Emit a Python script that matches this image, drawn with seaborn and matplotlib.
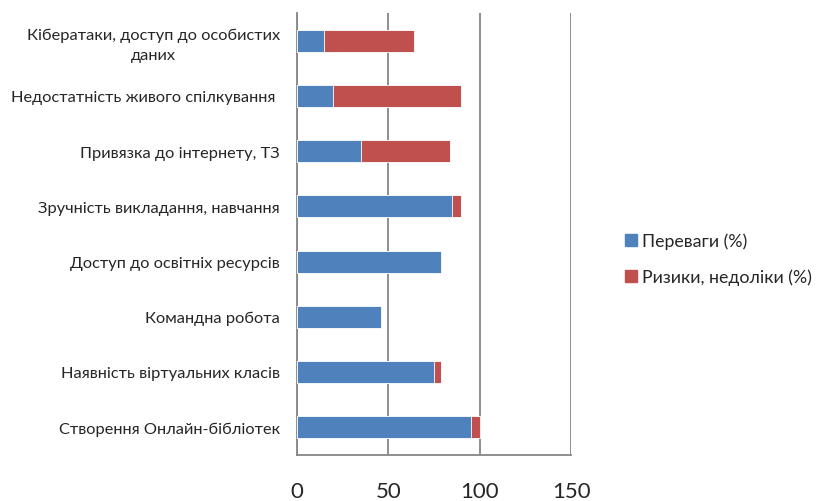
import numpy as np
import pandas as pd
import seaborn as sns
import matplotlib.pyplot as plt
from matplotlib.lines import Line2D

categories = [
    "Кібератаки, доступ до особистих\nданих",
    "Недостатність живого спілкування ",
    "Привязка до інтернету, ТЗ",
    "Зручність викладання, навчання",
    "Доступ до освітніх ресурсів",
    "Командна робота",
    "Наявність віртуальних класів",
    "Створення Онлайн-бібліотек",
]
advantages = [15, 20, 35, 85, 79, 46, 75, 95]
risks = [49, 70, 49, 5, 0, 0, 4, 5]
series_names = ["Переваги (%)", "Ризики, недоліки (%)"]
colors = ["#4F81BD", "#C0504D"]

df = pd.DataFrame({"cat": categories, "adv": advantages, "risk": risks})
df["total"] = df["adv"] + df["risk"]

sns.set_style("white")
plt.rcParams["font.family"] = ["Lato", "DejaVu Sans"]

fig = plt.figure(figsize=(8.22, 5.02), dpi=100)
ax = fig.add_axes([0.361, 0.092, 0.334, 0.88])

# stacked bars: total (red) behind, advantages (blue) in front
sns.barplot(data=df, y="cat", x="total", color=colors[1], saturation=1,
            width=0.4, orient="h", ax=ax, zorder=3)
sns.barplot(data=df, y="cat", x="adv", color=colors[0], saturation=1,
            width=0.4, orient="h", ax=ax, zorder=4)
for p in ax.patches:
    p.set_edgecolor("white")
    p.set_linewidth(0.6)

ax.set_xlim(0, 150)
ax.set_ylim(len(categories) - 0.5, -0.5)
ax.set_xticks([0, 50, 100, 150])
ax.grid(axis="x", color="#868686", linewidth=1.3, zorder=0)
ax.set_axisbelow(True)
ax.set_xlabel("")
ax.set_ylabel("")

for s in ["top", "right"]:
    ax.spines[s].set_visible(False)
for s in ["left", "bottom"]:
    ax.spines[s].set_color("#868686")
    ax.spines[s].set_linewidth(1.3)

ax.set_yticks(np.arange(len(categories)))
ax.set_yticklabels(categories, fontsize=11.8, ha="right", multialignment="center",
                   linespacing=1.55)
ax.set_yticks(np.arange(-0.5, len(categories), 1), minor=True)
ax.tick_params(axis="y", which="major", length=0, pad=12)
ax.tick_params(axis="y", which="minor", length=5, color="#868686", width=1.3, direction="out")
ax.tick_params(axis="x", length=7, color="#868686", width=1.3, labelsize=16, pad=12)

handles = [Line2D([], [], marker="s", linestyle="", color=c, markersize=8) for c in colors]
fig.legend(handles, series_names, loc="center left", bbox_to_anchor=(0.74, 0.482),
           frameon=False, fontsize=12.8, handletextpad=0.2, labelspacing=1.1,
           handlelength=0.8)

fig.savefig("out.png", dpi=100)
